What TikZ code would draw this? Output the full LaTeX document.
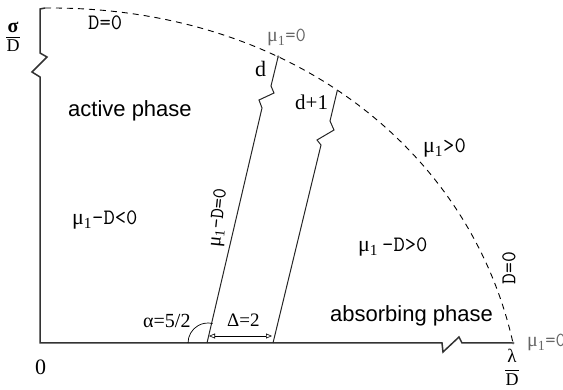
\documentclass[tikz,border=0pt]{standalone}
\usepackage{fontspec}
\setmainfont{Liberation Serif}
\setsansfont{Liberation Sans}
\usepackage{tikz}
\usetikzlibrary{arrows.meta}

\newcommand{\muone}{{\rmfamily μ\textsubscript{1}}}

\begin{document}
\begin{tikzpicture}[x=1pt, y=-1pt,
    axis/.style={line width=1.5pt, draw=black!80, line join=miter},
    border/.style={dash pattern=on 6pt off 5pt, line width=0.9pt},
    wall/.style={line width=1pt, draw=black!85},
    dot/.style={circle, fill=black!60, inner sep=0pt, minimum size=3pt},
    phase/.style={font=\fontsize{22}{24}\sffamily, inner sep=0pt, anchor=base west},
    cond/.style={font=\fontsize{22}{24}\ttfamily, inner sep=0pt, anchor=base west},
    sym/.style={font=\fontsize{21}{23}\rmfamily, inner sep=0pt, anchor=base west},
    tipnote/.style={font=\fontsize{20}{22}\ttfamily, text=black!60, inner sep=0pt, anchor=base west},
    frac/.style={font=\fontsize{19}{21}\rmfamily, inner sep=0pt, anchor=base},
    bar/.style={line width=0.8pt},
    span/.style={{Triangle[open,length=6pt,width=5pt]}-{Triangle[open,length=6pt,width=5pt]}, line width=0.6pt},
]
\useasboundingbox (0,0) rectangle (563,390);

%% Achsen
\coordinate (O) at (40,343);
\coordinate (ytop) at (40,9);
\coordinate (xend) at (513,343);
\draw[axis] (45,8) -- (ytop) -- (40,53) -- (47,57) -- (32,72) -- (40,77) -- (O)
    -- (442,343) -- (443,352) -- (459,337) -- (462,343) -- (xend);

%% Rand D=0
\draw[border] (45,8) .. controls (290,6) and (470,150) .. (xend)
    coordinate[pos=0.355] (mu0) coordinate[pos=0.465] (dtop);

%% Linien mu_1-D=0 (d und d+1)
\coordinate (d0) at (207,343);
\coordinate (d1) at (273,343);
\draw[wall] (d0) -- (262,108) -- (259,100) -- (274,93) -- (271,86) -- (mu0);
\draw[wall] (d1) -- (321,145) -- (317,140) -- (334,130) -- (330,121) -- (dtop);
\node[dot] (p0) at (mu0) {};
\node[dot] (p1) at (xend) {};

%% Winkel und Abstand
\draw[line width=0.7pt] (188,343) arc[start angle=180, end angle=283, radius=20];
\coordinate (da) at (209,336);
\coordinate (db) at (272,336);
\draw[span] (da) -- (db);

%% Achsenbeschriftung
\node[frac, font=\fontsize{20}{22}\bfseries] (sigN) at (13,33) {σ};
\node[frac, font=\fontsize{18}{20}\rmfamily] (sigD) at (13,52) {D};
\draw[bar] ([yshift=3pt]sigD.north west) -- ([yshift=3pt]sigD.north east);
\node[frac] (lamN) at (512,363) {λ};
\node[frac, font=\fontsize{18}{20}\rmfamily] (lamD) at (512,385) {D};
\draw[bar] ([yshift=3pt]lamD.north west) -- ([yshift=3pt]lamD.north east);
\node[sym, font=\fontsize{22}{24}\rmfamily] (zero) at (35,375) {0};

%% Beschriftungen
\node[cond] (dtopl) at (88,30) {D=0};
\node[cond, anchor=center, rotate=90, font=\fontsize{21}{23}\ttfamily] (dright) at (509,268) {D=0};
\node[tipnote] (m0top) at (267,42) {\muone=0};
\node[tipnote] (m0right) at (527,347) {\muone=0};
\node[phase] (act) at (68,117) {active phase};
\node[phase] (abs) at (330,322) {absorbing phase};
\node[cond] (neg) at (72,225) {\muone-D<0};
\node[cond] (pos) at (358,252) {\muone\hspace{4pt}-D>0};
\node[cond] (mpos) at (423,153) {\muone>0};
\node[cond, anchor=center, rotate=84, font=\fontsize{20}{22}\ttfamily] (crit) at (219,218) {\muone-D=0};
\node[sym, font=\fontsize{22}{24}\rmfamily] (ld) at (255,77) {d};
\node[sym] (ld1) at (295,110) {d+1};
\node[sym, font=\fontsize{20}{22}\rmfamily] (alp) at (143,328) {α=5/2};
\node[sym, font=\fontsize{19}{21}\rmfamily] (del) at (227,327) {Δ=2};

\end{tikzpicture}
\end{document}
